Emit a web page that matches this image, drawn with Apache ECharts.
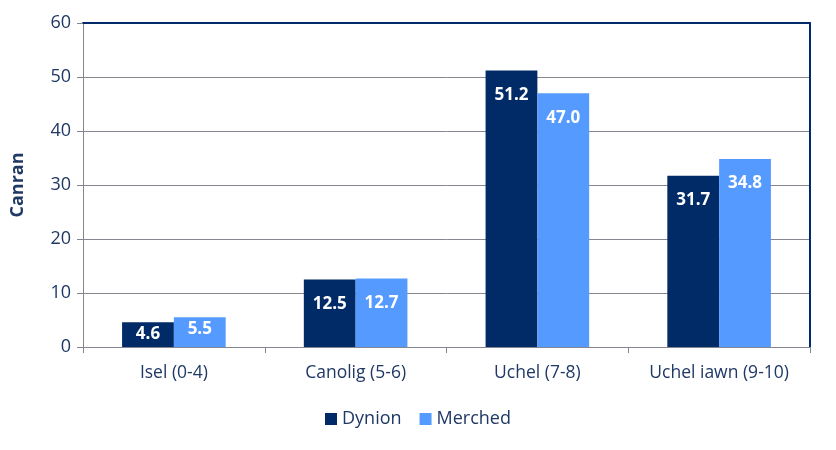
<!DOCTYPE html>
<html>
<head>
<meta charset="utf-8">
<script src="https://cdn.jsdelivr.net/npm/echarts@6/dist/echarts.min.js"></script>
<style>html,body{margin:0;padding:0;background:#fff}#c{width:836px;height:450px}</style>
</head>
<body>
<div id="c"></div>
<script>
const categories = ['Isel (0-4)', 'Canolig (5-6)', 'Uchel (7-8)', 'Uchel iawn (9-10)'];
const dynion = [4.6, 12.5, 51.2, 31.7];
const merched = [5.5, 12.7, 47.0, 34.8];
const seriesNames = ['Dynion', 'Merched'];
const yTicks = { min: 0, max: 60, interval: 10 };

const font = 'Open Sans, Lato, sans-serif';
const navy = '#1F3864';
const chart = echarts.init(document.getElementById('c'));
function labelFor(v) {
  return {
    show: true, position: 'insideTop', distance: v < 8 ? 3 : 16, color: '#fff',
    fontWeight: 'bold', fontSize: 17, fontFamily: font,
    formatter: p => p.value.toFixed(1)
  };
}
function items(arr) { return arr.map(v => ({ value: v, label: labelFor(v) })); }
chart.setOption({
  animation: false,
  grid: { left: 83, right: 26, top: 23, bottom: 103 },
  legend: {
    top: 405, left: 'center', itemWidth: 12, itemHeight: 12, icon: 'rect',
    itemGap: 18, itemTextGap: 4,
    textStyle: { color: navy, fontSize: 18, fontFamily: font },
    data: seriesNames
  },
  xAxis: [{
    type: 'category', data: categories,
    axisLine: { lineStyle: { color: '#868690', width: 1 } },
    axisTick: { show: true, length: 6, interval: 0, lineStyle: { color: '#868690' } },
    axisLabel: { color: navy, fontSize: 17.5, fontFamily: font, margin: 17, interval: 0 }
  }, {
    type: 'category', data: categories, position: 'top',
    axisLine: { show: true, onZero: false, lineStyle: { color: '#002B6B', width: 2 } },
    axisTick: { show: false }, axisLabel: { show: false }
  }],
  yAxis: [{
    type: 'value', min: yTicks.min, max: yTicks.max, interval: yTicks.interval,
    name: 'Canran', nameLocation: 'middle', nameGap: 56, nameRotate: 90,
    nameTextStyle: { color: navy, fontWeight: 'bold', fontSize: 18, fontFamily: font },
    axisLine: { show: true, lineStyle: { color: '#868690' } },
    axisTick: { show: true, length: 6, lineStyle: { color: '#868690' } },
    axisLabel: { color: navy, fontSize: 18, fontFamily: font, margin: 12 },
    splitLine: { lineStyle: { color: '#868690', width: 1 } }
  }, {
    type: 'value', min: yTicks.min, max: yTicks.max, interval: yTicks.interval, position: 'right',
    axisLine: { show: true, onZero: false, lineStyle: { color: '#002B6B', width: 2 } },
    axisTick: { show: false }, axisLabel: { show: false }, splitLine: { show: false }
  }],
  series: [{
    name: seriesNames[0], type: 'bar', data: items(dynion), barGap: '0%', barCategoryGap: '43%',
    itemStyle: { color: '#002B67' }
  }, {
    name: seriesNames[1], type: 'bar', data: items(merched),
    itemStyle: { color: '#559BFF' }
  }]
});
</script>
</body>
</html>
